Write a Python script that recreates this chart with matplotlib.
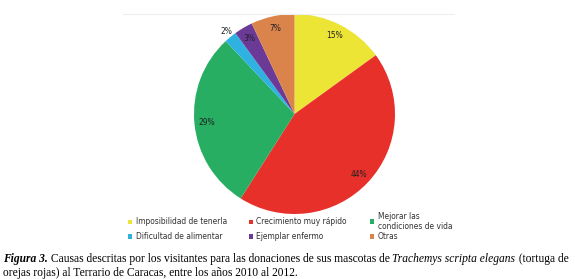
import matplotlib
matplotlib.use("Agg")
import matplotlib.pyplot as plt
import numpy as np
from matplotlib.lines import Line2D

categories = ["Imposibilidad de tenerla", "Crecimiento muy rápido",
              "Mejorar las\ncondiciones de vida", "Dificultad de alimentar",
              "Ejemplar enfermo", "Otras"]
values = [15, 44, 29, 2, 3, 7]
pct_labels = ["15%", "44%", "29%", "2%", "3%", "7%"]
colors = ["#ECE535", "#E8302B", "#27AE62", "#2FB2E2", "#6B3A97", "#DA834B"]

fig = plt.figure(figsize=(5.75, 2.79), dpi=100)
fig.patch.set_facecolor("white")
W, H = 575.0, 279.0

# faint top rule
fig.add_artist(Line2D([123/W, 454/W], [1-14/H, 1-14/H],
                      color="#eeeeee", lw=0.8))

cx, cy, rx, ry = 294.5, 114.0, 100.5, 100.0
ax = fig.add_axes([(cx-rx)/W, 1-(cy+ry)/H, 2*rx/W, 2*ry/H])
wedges, _ = ax.pie(values, colors=colors, startangle=90, counterclock=False,
                   radius=1, wedgeprops=dict(linewidth=0))
ax.set_aspect("auto")
ax.set_xlim(-1, 1)
ax.set_ylim(-1, 1)
ax.axis("off")

lab_font = dict(family="DejaVu Sans", stretch="condensed")
for w, lab in zip(wedges, pct_labels):
    ang = np.deg2rad((w.theta1 + w.theta2) / 2)
    r = 1.07 if lab == "2%" else 0.88
    ax.text(r*np.cos(ang), r*np.sin(ang), lab, ha="center", va="center",
            fontsize=6.0, color="#222222", **lab_font)

# legend (3 columns x 2 rows, drawn in figure pixels)
col_x = [130, 251, 372]
row_y = [222, 236.5]
for i, (cat, col) in enumerate(zip(categories, colors)):
    r, c = divmod(i, 3)
    y = row_y[r] - (0.5 if "\n" in cat else 0)
    fig.add_artist(plt.Rectangle(((col_x[c]-2.2)/W, 1-(y+2.2)/H), 4.5/W, 4.5/H,
                                 facecolor=col, edgecolor="none",
                                 transform=fig.transFigure))
    fig.text((col_x[c]+5.5)/W, 1-y/H, cat, ha="left", va="center",
             fontsize=6.0, color="#333333", linespacing=1.2, **lab_font)

# caption with mixed styles
fig.canvas.draw()
renderer = fig.canvas.get_renderer()

def runs(pieces, x0, y):
    x = x0
    for txt, style, weight in pieces:
        t = fig.text(x, y, txt, family="Liberation Serif", fontsize=8.3,
                     style=style, weight=weight, color="black", va="baseline")
        bb = t.get_window_extent(renderer=renderer)
        x = x + bb.width / fig.bbox.width

runs([("Figura 3.", "italic", "bold"),
      (" Causas descritas por los visitantes para las donaciones de sus mascotas de ", "normal", "normal"),
      ("Trachemys scripta elegans", "italic", "normal"),
      (" (tortuga de", "normal", "normal")], 3/W, 1-262/H)
runs([("orejas rojas) al Terrario de Caracas, entre los años 2010 al 2012.", "normal", "normal")],
     3/W, 1-276/H)

fig.savefig("out.png", dpi=100, facecolor="white")
